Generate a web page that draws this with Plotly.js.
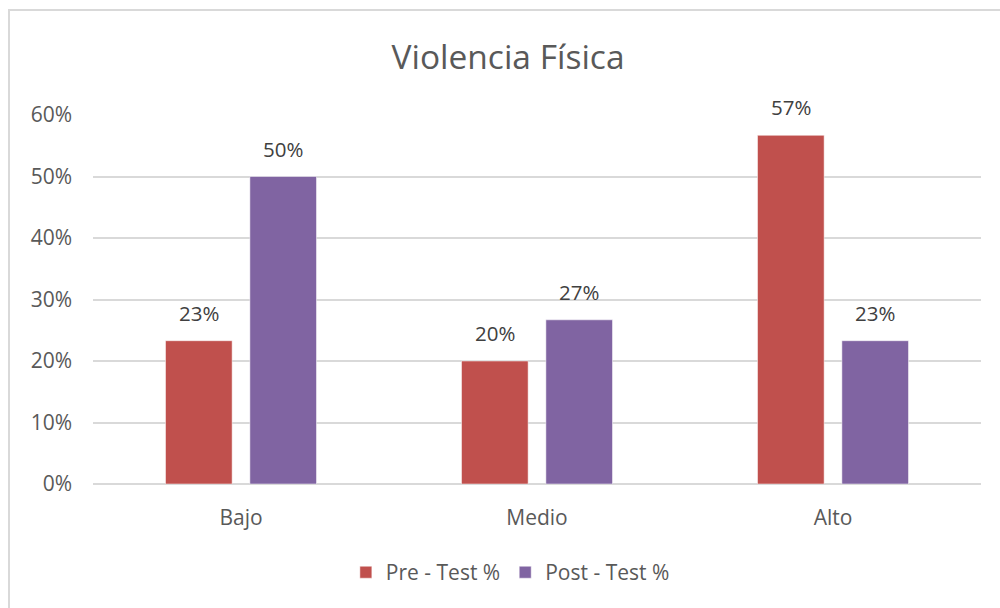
<!DOCTYPE html>
<html>
<head>
<meta charset="utf-8">
<script src="https://cdn.plot.ly/plotly-3.0.1.min.js"></script>
<style>
  html, body { margin: 0; padding: 0; background: #ffffff; overflow: hidden; }
  #wrap { position: relative; width: 1000px; height: 608px; overflow: hidden; }
  #chart { position: absolute; left: 0; top: 0; width: 1000px; height: 608px; }
  #frame { position: absolute; left: 8px; top: 9px; width: 1100px; height: 700px;
           border: 2px solid #d9d9d9; pointer-events: none; box-sizing: border-box; }
</style>
</head>
<body>
<div id="wrap">
  <div id="chart"></div>
  <div id="frame"></div>
</div>
<script>
const categories = ["Bajo", "Medio", "Alto"];
const preTest = [0.233, 0.200, 0.567];
const postTest = [0.500, 0.267, 0.233];
const seriesNames = ["Pre - Test %", "Post - Test %"];
const yTicks = [0, 0.1, 0.2, 0.3, 0.4, 0.5, 0.6];

const textColor = "#595959";
const fontFam = "'Open Sans', 'DejaVu Sans', sans-serif";

const traces = [
  { type: "bar", name: seriesNames[0], x: categories, y: preTest,
    marker: { color: "#C0504D", line: { color: "#ffffff", width: 0.5 } }, hoverinfo: "none" },
  { type: "bar", name: seriesNames[1], x: categories, y: postTest,
    marker: { color: "#8064A2", line: { color: "#ffffff", width: 0.5 } }, hoverinfo: "none" }
];

const annotations = [];
const slotShift = 42;
[preTest, postTest].forEach((vals, si) => {
  vals.forEach((v, i) => {
    annotations.push({
      x: categories[i], y: v, xref: "x", yref: "y",
      text: Math.round(v * 100) + "%",
      showarrow: false, yanchor: "bottom",
      xshift: si === 0 ? -slotShift : slotShift, yshift: 12,
      font: { family: fontFam, size: 20.5, color: "#404040" }
    });
  });
});

const layout = {
  width: 1000, height: 608,
  margin: { l: 93, r: 19, t: 115, b: 124 },
  paper_bgcolor: "#ffffff", plot_bgcolor: "#ffffff",
  font: { family: fontFam, color: textColor },
  title: { text: "Violencia Física", x: 0.508, xref: "container", xanchor: "center",
           y: 0.905, yref: "container", yanchor: "middle",
           font: { family: fontFam, size: 33.5, color: textColor } },
  barmode: "group", bargap: 0.43, bargroupgap: 0.21,
  xaxis: { showgrid: false, showline: false, zeroline: false, ticks: "",
           tickfont: { size: 21, color: textColor }, ticklabelstandoff: 19, fixedrange: true },
  yaxis: { range: [0, 0.6], tickvals: yTicks, tickformat: ".0%",
           showgrid: true, gridcolor: "#d9d9d9", gridwidth: 2,
           zeroline: true, zerolinecolor: "#d9d9d9", zerolinewidth: 2,
           showline: false, ticks: "", ticklabelstandoff: 20,
           tickfont: { size: 21, color: textColor }, fixedrange: true },
  showlegend: true,
  legend: { orientation: "h", x: 0.47, xanchor: "center", y: -0.24, yanchor: "middle",
            font: { size: 21, color: textColor }, traceorder: "normal" },
  annotations: annotations
};

Plotly.newPlot("chart", traces, layout, { displayModeBar: false, staticPlot: true });
</script>
</body>
</html>
